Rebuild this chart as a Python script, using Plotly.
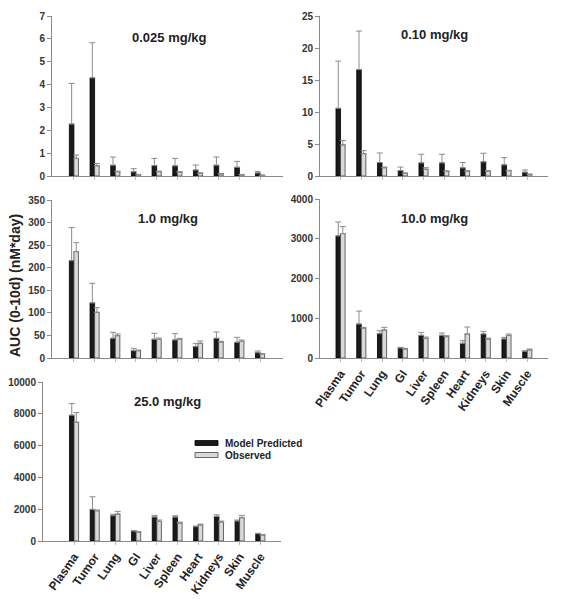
import plotly.graph_objects as go

organs = ["Plasma", "Tumor", "Lung", "GI", "Liver", "Spleen", "Heart", "Kidneys", "Skin", "Muscle"]

doses = ["0.025 mg/kg", "0.10 mg/kg", "1.0 mg/kg", "10.0 mg/kg", "25.0 mg/kg"]

pred_0025 = [2.27, 4.29, 0.47, 0.18, 0.45, 0.44, 0.26, 0.47, 0.38, 0.13]
pred_0025_err = [1.78, 1.54, 0.36, 0.14, 0.32, 0.33, 0.22, 0.36, 0.26, 0.07]
obs_0025 = [0.77, 0.45, 0.19, 0.06, 0.19, 0.175, 0.12, 0.09, 0.06, 0.03]
obs_0025_err = [0.15, 0.10, 0.02, 0.01, 0.02, 0.02, 0.02, 0.01, 0.01, 0.005]

pred_010 = [10.57, 16.63, 2.1, 0.84, 2.04, 2.04, 1.26, 2.2, 1.73, 0.58]
pred_010_err = [7.37, 6.02, 1.5, 0.56, 1.36, 1.36, 0.84, 1.36, 1.15, 0.36]
obs_010 = [4.86, 3.5, 1.3, 0.42, 1.05, 0.73, 0.78, 0.78, 0.84, 0.26]
obs_010_err = [0.68, 0.47, 0.1, 0.05, 0.25, 0.05, 0.05, 0.05, 0.05, 0.03]

pred_10 = [215.6, 121.9, 43.6, 16.2, 41.4, 39.9, 25.1, 43.6, 34.7, 11.8]
pred_10_err = [73.2, 43.5, 13.3, 5.2, 13.3, 14.0, 7.4, 14.0, 11.1, 3.7]
obs_10 = [235.6, 101.2, 49.5, 16.2, 41.4, 41.4, 32.5, 35.5, 36.9, 8.9]
obs_10_err = [19.9, 10.3, 3.7, 1.5, 2.9, 2.2, 5.2, 1.4, 3.0, 0.7]

pred_100 = [3071, 854, 611, 251, 569, 569, 368, 603, 477, 167]
pred_100_err = [352, 326, 75, 17, 75, 59, 67, 66, 42, 17]
obs_100 = [3130, 753, 703, 226, 494, 536, 603, 477, 569, 201]
obs_100_err = [175, 17, 67, 17, 33, 25, 175, 25, 34, 25]

pred_250 = [7908, 1987, 1590, 628, 1506, 1506, 900, 1548, 1255, 460]
pred_250_err = [732, 795, 84, 21, 105, 84, 41, 105, 63, 21]
obs_250 = [7469, 1904, 1695, 565, 1234, 1130, 1004, 1192, 1464, 377]
obs_250_err = [606, 42, 167, 21, 84, 62, 63, 63, 147, 20]

panels = [
    (pred_0025, pred_0025_err, obs_0025, obs_0025_err),
    (pred_010, pred_010_err, obs_010, obs_010_err),
    (pred_10, pred_10_err, obs_10, obs_10_err),
    (pred_100, pred_100_err, obs_100, obs_100_err),
    (pred_250, pred_250_err, obs_250, obs_250_err),
]
y_max = [7, 25, 350, 4000, 10000]
y_dtick = [1, 5, 50, 1000, 2000]

W, H = 571, 599
def px_x(v):
    return v / W
def px_y(v):
    return 1 - v / H

# panel boxes in pixels: (x0, x1, ytop, ybottom), x range
boxes = [
    (52, 283, 16, 176, [-1.06, 10.11]),
    (320, 548, 16, 176, [-0.99, 10.0]),
    (52, 283, 200, 358, [-1.06, 10.11]),
    (320, 548, 199, 358, [-0.99, 10.0]),
    (43, 281, 382, 541, [-1.5, 10.0]),
]
title_pos = [(169, 38), (434, 35), (168, 218), (434, 218), (167, 401)]

FONT = "Arial, Liberation Sans, sans-serif"
PRED_COLOR = "#1a1a1a"
OBS_COLOR = "#d9d9d9"
AXIS_COLOR = "#8a8a8a"
ERR_COLOR = "#8c8c8c"

fig = go.Figure()
layout = dict(
    template="none",
    width=W, height=H,
    margin=dict(l=0, r=0, t=0, b=0, autoexpand=False),
    paper_bgcolor="white", plot_bgcolor="white",
    barmode="group", bargap=0.56, bargroupgap=0.0,
    showlegend=False,
    font=dict(family=FONT, color="#222222"),
)

annotations = []
for i, (pv, pe, ov, oe) in enumerate(panels):
    n = i + 1
    xa = "x" if n == 1 else f"x{n}"
    ya = "y" if n == 1 else f"y{n}"
    fig.add_trace(go.Bar(
        x=organs, y=pv, name="Model Predicted", xaxis=xa, yaxis=ya,
        marker=dict(color=PRED_COLOR, line=dict(color="#000000", width=0.8)),
        error_y=dict(type="data", array=pe, arrayminus=[0] * len(pe), symmetric=False,
                     color=ERR_COLOR, thickness=1, width=3),
    ))
    fig.add_trace(go.Bar(
        x=organs, y=ov, name="Observed", xaxis=xa, yaxis=ya,
        marker=dict(color=OBS_COLOR, line=dict(color="#444444", width=0.8)),
        error_y=dict(type="data", array=oe, arrayminus=[0] * len(oe), symmetric=False,
                     color=ERR_COLOR, thickness=1, width=3),
    ))
    x0, x1, yt, yb, xr = boxes[i]
    key_x = "xaxis" if n == 1 else f"xaxis{n}"
    key_y = "yaxis" if n == 1 else f"yaxis{n}"
    layout[key_x] = dict(
        domain=[px_x(x0), px_x(x1)], anchor=ya, type="category",
        range=xr, showgrid=False, zeroline=False, automargin=False,
        showline=True, linecolor=AXIS_COLOR, linewidth=1,
        ticks="outside", ticklen=3, tickcolor="#bbbbbb",
        showticklabels=(n in (4, 5)), tickangle=-55,
        tickfont=dict(family=FONT, size=12, color="#222222", weight="bold"),
    )
    layout[key_y] = dict(
        domain=[px_y(yb), px_y(yt)], anchor=xa, automargin=False,
        range=[0, y_max[i]], dtick=y_dtick[i], tickformat="d",
        showgrid=False, zeroline=False,
        showline=True, linecolor=AXIS_COLOR, linewidth=1,
        ticks="outside", ticklen=4, tickcolor=AXIS_COLOR,
        tickfont=dict(family=FONT, size=10, color="#333333", weight="bold"),
    )
    tx, ty = title_pos[i]
    annotations.append(dict(
        text=doses[i], x=px_x(tx), y=px_y(ty), xref="paper", yref="paper",
        showarrow=False, xanchor="center", yanchor="middle",
        font=dict(family=FONT, size=13, color="#222222", weight="bold"),
    ))

# y-axis title
annotations.append(dict(
    text="AUC (0-10d) (nM*day)", x=px_x(15), y=px_y(286), xref="paper", yref="paper",
    showarrow=False, textangle=-90, xanchor="center", yanchor="middle",
    font=dict(family=FONT, size=14, color="#222222", weight="bold"),
))

# legend (drawn manually to match wide thin swatches)
legend_items = [("Model Predicted", PRED_COLOR, "#000000", 443), ("Observed", OBS_COLOR, "#444444", 455)]
shapes = []
for label, fill, edge, cy in legend_items:
    shapes.append(dict(
        type="rect", xref="paper", yref="paper",
        x0=px_x(195), x1=px_x(218), y0=px_y(cy + 2.5), y1=px_y(cy - 2.5),
        fillcolor=fill, line=dict(color=edge, width=0.8),
    ))
    annotations.append(dict(
        text=label, x=px_x(223), y=px_y(cy), xref="paper", yref="paper",
        showarrow=False, xanchor="left", yanchor="middle",
        font=dict(family=FONT, size=10, color="#222222", weight="bold"),
    ))

layout["annotations"] = annotations
layout["shapes"] = shapes
fig.update_layout(**layout)
fig.write_html(
    "out.html",
    config={"displayModeBar": False},
    post_script="document.body.style.margin='0';document.body.style.overflow='hidden';",
)
